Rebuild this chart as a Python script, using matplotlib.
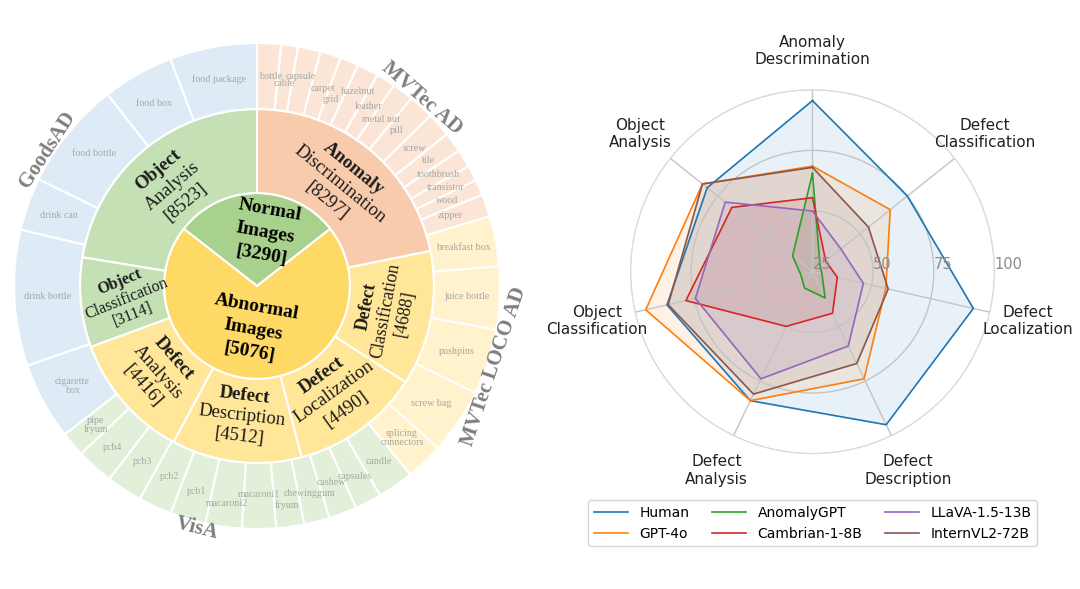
import numpy as np
import matplotlib.pyplot as plt

# ---------------- sunburst data ----------------
inner_labels = ["Normal", "Abnormal"]
inner_counts = [3290, 5076]
inner_share = [104, 256]          # angular share as drawn in the picture

task_head = ["Object", "Object", "Defect", "Defect", "Defect", "Defect", "Anomaly"]
task_name = ["Analysis", "Classification", "Analysis", "Description",
             "Localization", "Classification", "Discrimination"]
task_count = [8523, 3114, 4416, 4512, 4490, 4688, 8297]

# outer ring, counter-clockwise from 12 o'clock (shares)
goods_items = ["food package", "food box", "food bottle", "drink can", "drink bottle", "cigarette\nbox"]
goods_share = [20.9, 17.0, 26.0, 12.6, 32.5, 18.5]
visa_items = ["pipe\nfryum", "pcb4", "pcb3", "pcb2", "pcb1", "macaroni2", "macaroni1",
              "fryum", "chewinggum", "cashew", "capsules", "candle"]
visa_share = [6.0, 8.9, 8.6, 8.0, 8.5, 8.7, 8.1, 6.7, 6.1, 6.7, 6.4, 8.6]
loco_items = ["splicing\nconnectors", "screw bag", "pushpins", "juice bottle", "breakfast box"]
loco_share = [9.1, 15.7, 15.7, 15.0, 12.0]
mvtec_items = ["zipper", "wood", "transistor", "toothbrush", "tile", "screw", "pill",
               "metal nut", "leather", "hazelnut", "grid", "carpet", "capsule", "cable", "bottle"]
mvtec_share = [5.35, 3.75, 3.75, 4.3, 4.8, 5.85, 6.05, 5.1, 4.6, 5.15, 4.45, 4.9, 5.45, 4.0, 5.7]

dataset_names = ["GoodsAD", "VisA", "MVTec LOCO AD", "MVTec AD"]

# ---------------- radar data ----------------
radar_axes = ["Anomaly\nDescrimination", "Defect\nClassification", "Defect\nLocalization",
              "Defect\nDescription", "Defect\nAnalysis", "Object\nClassification", "Object\nAnalysis"]
models = ["Human", "GPT-4o", "AnomalyGPT", "Cambrian-1-8B", "LLaVA-1.5-13B", "InternVL2-72B"]
human = [95.5, 75, 93, 95, 84, 86.5, 80.5]
gpt4o = [68.5, 66, 56, 74, 84, 95.5, 83]
anomalygpt = [65.5, 29, 29, 37, 32.5, 30, 35.5]
cambrian = [55.5, 32, 35.5, 44, 50, 78.5, 67.5]
llava = [50, 40, 46.5, 59, 74, 74.5, 71]
internvl = [68, 54.5, 57, 67, 81, 86, 83]
scores = [human, gpt4o, anomalygpt, cambrian, llava, internvl]
r_ticks = [25, 50, 75, 100]

# ---------------- figure ----------------
fig = plt.figure(figsize=(10.8, 5.89), dpi=100)

# sunburst drawn in pixel units
ax = fig.add_axes([0, 0, 1, 1])
cx, cy = 257, 589 - 286
r_in, r_mid, r_out = 93, 177, 243
serif = "Liberation Serif"

ax.pie(inner_share, radius=r_in, center=(cx, cy), startangle=90 - inner_share[0] / 2,
       colors=["#a9d18e", "#ffd966"], frame=True,
       wedgeprops=dict(edgecolor="white", linewidth=1.5))

task_colors = ["#c5e0b4", "#c5e0b4", "#ffe699", "#ffe699", "#ffe699", "#ffe699", "#f8cbad"]
mid_wedges, _ = ax.pie(task_count, radius=r_mid, center=(cx, cy), startangle=90,
                       colors=task_colors, frame=True,
                       wedgeprops=dict(width=r_mid - r_in, edgecolor="white", linewidth=1.5))

outer_items = goods_items + visa_items + loco_items + mvtec_items
outer_share = goods_share + visa_share + loco_share + mvtec_share
outer_colors = (["#deebf7"] * len(goods_items) + ["#e2f0d9"] * len(visa_items)
                + ["#fff2cc"] * len(loco_items) + ["#fbe5d6"] * len(mvtec_items))
out_wedges, _ = ax.pie(outer_share, radius=r_out, center=(cx, cy), startangle=90,
                       colors=outer_colors, frame=True,
                       wedgeprops=dict(width=r_out - r_mid, edgecolor="white", linewidth=1.5))

ax.set_xlim(0, 1080)
ax.set_ylim(0, 589)
ax.set_aspect("auto")
ax.axis("off")


def stacked(x, y, lines, rot, spacing, styles):
    t = np.deg2rad(rot)
    down = np.array([np.sin(t), -np.cos(t)])
    n = len(lines)
    for i, (txt, kw) in enumerate(zip(lines, styles)):
        off = (i - (n - 1) / 2) * spacing
        ax.text(x + off * down[0], y + off * down[1], txt, rotation=rot,
                rotation_mode="anchor", ha="center", va="center", family=serif, **kw)


def tangent(a):
    a = a % 360
    return a - 90 if a <= 180 else a - 270


def polar_xy(a, rr):
    return cx + rr * np.cos(np.deg2rad(a)), cy + rr * np.sin(np.deg2rad(a))


# inner labels (nudged off the centre, tilted a little like the original)
for name, cnt, (a, rr) in zip(inner_labels, inner_counts, [(81, 54), (-95, 44)]):
    bold = dict(fontsize=14, fontweight="bold", color="black")
    x, y = polar_xy(a, rr)
    stacked(x, y, [name, "Images", f"[{cnt}]"], -10, 23, [bold, bold, bold])

# middle ring labels
for w, head, name, cnt in zip(mid_wedges, task_head, task_name, task_count):
    a = (w.theta1 + w.theta2) / 2
    rot = tangent(a)
    size = 13.5
    if name == "Classification" and head == "Object":
        rot = 22            # narrow wedge: label laid almost flat
        size = 11.5
    elif name == "Classification":
        size = 12.7
    x, y = polar_xy(a, (r_in + r_mid) / 2 - 4)
    stacked(x, y, [head, name, f"[{cnt}]"], rot, size * 1.55,
            [dict(fontsize=size, fontweight="bold", color="#1a1a1a"),
             dict(fontsize=size, color="#1a1a1a"),
             dict(fontsize=size, color="#1a1a1a")])

# outer ring labels; crowded ones are staggered as in the original
mvtec_label_pos = [(20.1, 206), (24.2, 209), (27.6, 213), (31.7, 213), (36.2, 212),
                   (41.3, 209), (47.9, 209), (53.4, 208), (58.1, 212), (62.6, 219),
                   (68.4, 201), (71.5, 208), (78.2, 214), (82.4, 204), (86.2, 210)]
label_r = {"pcb4": 217, "pcb1": 214, "macaroni2": 220, "macaroni1": 209, "fryum": 221,
           "chewinggum": 214, "capsules": 214, "candle": 214, "pipe\nfryum": 213}
n_other = len(outer_items) - len(mvtec_items)
for i, (w, item) in enumerate(zip(out_wedges, outer_items)):
    if i < n_other:
        x, y = polar_xy((w.theta1 + w.theta2) / 2, label_r.get(item, (r_mid + r_out) / 2))
    else:
        x, y = polar_xy(*mvtec_label_pos[i - n_other])
    ax.text(x, y, item, ha="center", va="center", fontsize=7.2, color="#a6a6a6",
            family=serif, linespacing=0.9)

# dataset names around the ring
for name, a in zip(dataset_names, [147, -104, -18.7, 48.7]):
    x, y = polar_xy(a, r_out + 7)
    ax.text(x, y, name, rotation=tangent(a), rotation_mode="anchor", ha="center",
            va="center", fontsize=15, fontweight="bold", color="#7f7f7f", family=serif)

# ---------------- radar ----------------
rax = fig.add_axes([0.5838, 0.2297, 0.337, 0.618], projection="polar")
angles = np.linspace(0, 2 * np.pi, len(radar_axes), endpoint=False)
rax.set_theta_offset(np.pi / 2)
rax.set_theta_direction(-1)

for name, vals in zip(models, scores):
    v = vals + vals[:1]
    t = np.concatenate([angles, angles[:1]])
    line, = rax.plot(t, v, linewidth=1.2, label=name)
    rax.fill(t, v, color=line.get_color(), alpha=0.1)

rax.set_ylim(25, 100)
rax.set_xticks(angles)
rax.set_xticklabels([])
for a, lab in zip(angles, radar_axes):
    rax.text(a, 116, lab, ha="center", va="center", fontsize=11, color="#222222")
rax.set_yticks(r_ticks)
rax.set_yticklabels([])
for r in r_ticks:
    rax.text(np.pi / 2, r, str(r), ha="left", va="bottom", fontsize=10.5, color="#8c8c8c")
rax.grid(color="#c4c4c4", linewidth=1)
rax.spines["polar"].set_color("#dddddd")

fig.legend(loc="upper center", bbox_to_anchor=(0.7523, 0.151), ncol=3, fontsize=10,
           frameon=True, edgecolor="#cccccc", columnspacing=1.6, handlelength=2.5,
           borderaxespad=0)

fig.savefig("out.png", dpi=100)
